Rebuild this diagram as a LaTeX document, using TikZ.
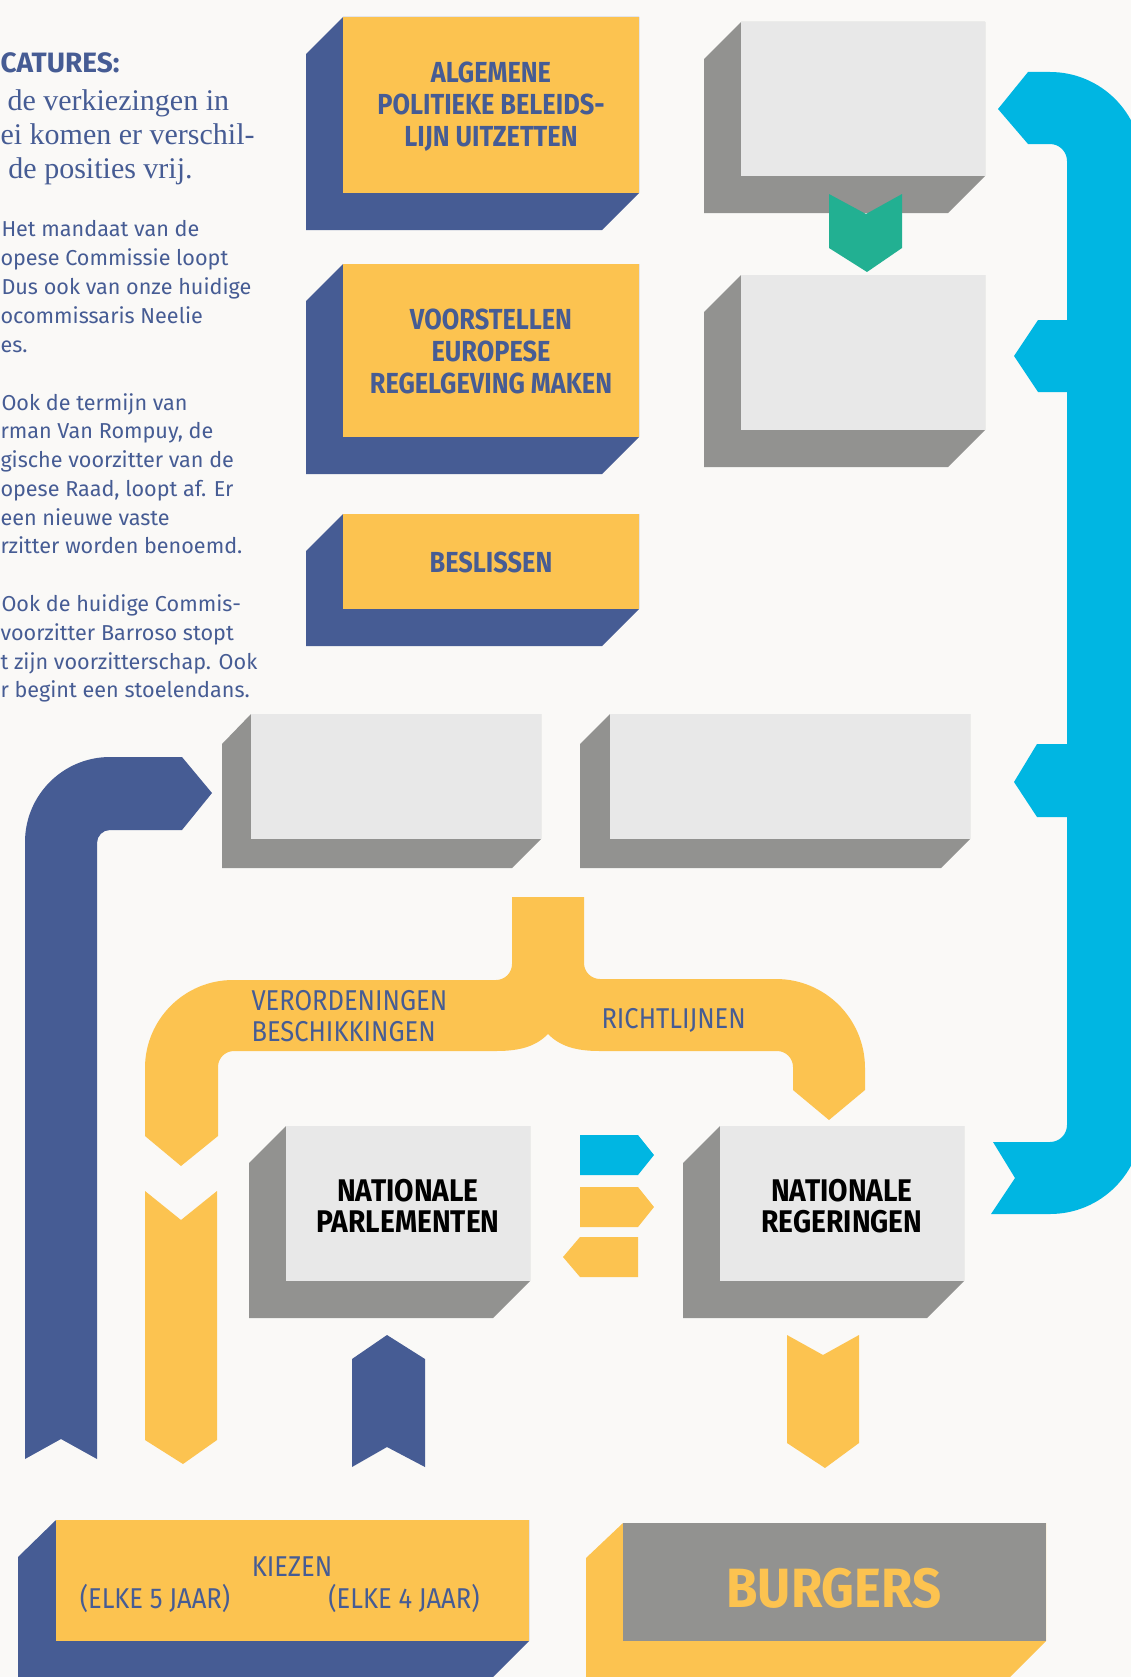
\documentclass[tikz,border=0pt]{standalone}
\usepackage{fontspec}
\setmainfont{Fira Sans}
\newfontfamily\introface{Liberation Serif}
\newfontfamily\narrowface[FakeStretch=0.89]{Fira Sans}
\newfontfamily\narrowbold[FakeStretch=0.875]{Fira Sans}
\newfontfamily\natbold[FakeStretch=0.9]{Fira Sans}
\newfontfamily\burgerbold[FakeStretch=0.92]{Fira Sans}

\definecolor{euyellow}{RGB}{252,195,80}
\definecolor{eublue}{RGB}{70,92,148}
\definecolor{eugray}{RGB}{146,146,144}
\definecolor{eulight}{RGB}{232,232,232}
\definecolor{eucyan}{RGB}{0,182,226}
\definecolor{eugreen}{RGB}{34,176,146}
\definecolor{paper}{RGB}{250,249,247}

\tikzset{every picture/.style={line width=0.75pt}}
\tikzset{
  yellowface/.style={fill=euyellow},
  blueshade/.style={fill=eublue},
  grayface/.style={fill=eulight},
  grayshade/.style={fill=eugray},
  boxlabel/.style={inner sep=0.75pt, align=center, text=eublue, font=\narrowbold\bfseries\fontsize{21.75}{24}\selectfont},
  natlabel/.style={inner sep=0.75pt, align=center, text=black, font=\natbold\bfseries\fontsize{23.5}{23.25}\selectfont},
  bandlabel/.style={inner sep=0.75pt, align=left, text=eublue, font=\narrowface\fontsize{21.5}{23.25}\selectfont},
  burgerlabel/.style={inner sep=0.75pt, text=euyellow, font=\burgerbold\bfseries\fontsize{41.5}{44}\selectfont},
  headtext/.style={inner sep=0pt, anchor=base west, text=eublue, font=\bfseries\fontsize{21}{22}\selectfont},
  introtext/.style={inner sep=0pt, anchor=base west, text=eublue, font=\introface\fontsize{22.5}{26}\selectfont},
  sidetext/.style={inner sep=0pt, anchor=base west, text=eublue, font=\fontsize{16.2}{21}\selectfont}
}

\begin{document}
\begin{tikzpicture}[x=0.75pt,y=0.75pt,yscale=-1,xscale=1]
        \useasboundingbox (0,0) rectangle (1131,1677);
        \clip (0,0) rectangle (1131,1677);
        \fill[paper] (0,0) rectangle (1131,1677);

        % Text Node
        \node[headtext] (catures) at (0,73) {CATURES:};
        \node[introtext] (intro1) at (7,110) {de verkiezingen in};
        \node[introtext] (intro2) at (0,144) {ei komen er verschil-};
        \node[introtext] (intro3) at (8,178) {de posities vrij.};
        % Text Node
        \node[sidetext] (side1) at (1,236) {Het mandaat van de};
        \node[sidetext] (side2) at (0,265) {opese Commissie loopt};
        \node[sidetext] (side3) at (1,294) {Dus ook van onze huidige};
        \node[sidetext] (side4) at (0,323) {ocommissaris Neelie};
        \node[sidetext] (side5) at (0,352) {es.};
        % Text Node
        \node[sidetext] (side6) at (1,410) {Ook de termijn van};
        \node[sidetext] (side7) at (0,438) {rman Van Rompuy, de};
        \node[sidetext] (side8) at (0,467) {gische voorzitter van de};
        \node[sidetext] (side9) at (0,496) {opese Raad, loopt af. Er};
        \node[sidetext] (side10) at (0,525) {een nieuwe vaste};
        \node[sidetext] (side11) at (0,553) {rzitter worden benoemd.};
        % Text Node
        \node[sidetext] (side12) at (1,611) {Ook de huidige Commis-};
        \node[sidetext] (side13) at (0,640) {voorzitter Barroso stopt};
        \node[sidetext] (side14) at (0,669) {t zijn voorzitterschap. Ook};
        \node[sidetext] (side15) at (0,697) {r begint een stoelendans.};

        %Shape: Box (algemene)
        \fill[blueshade] (343,17) -- (306,54) -- (306,230) -- (602,230) -- (639,193) -- (639,17) -- cycle;
        \fill[yellowface] (343,17) rectangle (639,193);
        %Shape: Box (voorstellen)
        \fill[blueshade] (343,264) -- (306,301) -- (306,474) -- (602,474) -- (639,437) -- (639,264) -- cycle;
        \fill[yellowface] (343,264) rectangle (639,437);
        %Shape: Box (beslissen)
        \fill[blueshade] (343,514) -- (306,551) -- (306,646) -- (602,646) -- (639,609) -- (639,514) -- cycle;
        \fill[yellowface] (343,514) rectangle (639,609);

        %Shape: Box (top right, empty)
        \fill[grayshade] (741,22) -- (704,59) -- (704,213) -- (948,213) -- (985,176) -- (985,22) -- cycle;
        \fill[grayface] (741,22) rectangle (985,176);
        %Shape: Box (second right, empty)
        \fill[grayshade] (741,275) -- (704,312) -- (704,467) -- (948,467) -- (985,430) -- (985,275) -- cycle;
        \fill[grayface] (741,275) rectangle (985,430);
        %Shape: Arrow (green)
        \fill[eugreen] (829,194) -- (866,214) -- (902,194) -- (902,248) -- (867,272) -- (829,248) -- cycle;

        %Shape: Box (middle left, empty)
        \fill[grayshade] (251,714) -- (222,744) -- (222,868) -- (512,868) -- (541,839) -- (541,714) -- cycle;
        \fill[grayface] (251,714) rectangle (541,839);
        %Shape: Box (middle right, empty)
        \fill[grayshade] (610,714) -- (580,744) -- (580,868) -- (941,868) -- (970,839) -- (970,714) -- cycle;
        \fill[grayface] (610,714) rectangle (970,839);

        %Shape: Box (parlementen)
        \fill[grayshade] (286,1126) -- (249,1163) -- (249,1318) -- (493,1318) -- (530,1281) -- (530,1126) -- cycle;
        \fill[grayface] (286,1126) rectangle (530,1281);
        %Shape: Box (regeringen)
        \fill[grayshade] (720,1126) -- (683,1163) -- (683,1318) -- (927,1318) -- (964,1281) -- (964,1126) -- cycle;
        \fill[grayface] (720,1126) rectangle (964,1281);

        %Shape: Box (kiezen)
        \fill[blueshade] (56,1520) -- (18,1557) -- (18,1680) -- (490,1680) -- (529,1641) -- (529,1520) -- cycle;
        \fill[yellowface] (56,1520) rectangle (529,1641);
        %Shape: Box (burgers)
        \fill[yellowface] (623,1523) -- (586,1558) -- (586,1680) -- (1007,1680) -- (1046,1641) -- (1046,1523) -- cycle;
        \fill[grayshade] (623,1523) rectangle (1046,1641);

        %Shape: Bracket (cyan, right)
        \fill[eucyan] (998,109) -- (1028,72) -- (1050,72) arc (-90:0:92) -- (1142,1122) arc (0:90:92)
            -- (991,1214) -- (1015,1178) -- (993,1142) -- (1050,1142) arc (90:0:17)
            -- (1067,817) -- (1037,817) -- (1014,782) -- (1037,744) -- (1067,744)
            -- (1067,392) -- (1038,392) -- (1014,356) -- (1038,320) -- (1067,320)
            -- (1067,161) arc (0:-90:17) -- (1028,144) -- cycle;

        %Shape: Bar (blue, left)
        \fill[eublue] (212,793) -- (182,757) -- (110,757) arc (270:180:85) -- (25,1459) -- (61,1439) -- (97,1459)
            -- (97,843) arc (180:270:13) -- (182,830) -- cycle;

        %Shape: Bracket (yellow, middle)
        \fill[euyellow] (512,897) -- (584,897) -- (584,963) arc (180:90:16) -- (776,979) arc (270:360:89)
            -- (865,1090) -- (829,1120) -- (793,1090) -- (793,1067) arc (0:-90:16) -- (600,1051)
            .. controls (575,1051) and (560,1046) .. (548,1034)
            .. controls (536,1046) and (521,1051) .. (496,1051)
            -- (234,1051) arc (270:180:16) -- (218,1136) -- (181,1166) -- (145,1136) -- (145,1068)
            arc (180:270:88) -- (496,980) arc (90:0:16) -- cycle;

        %Shape: Arrow (yellow, left)
        \fill[euyellow] (145,1191) -- (181,1220) -- (217,1191) -- (217,1440) -- (183,1464) -- (145,1440) -- cycle;
        %Shape: Arrow (blue, up)
        \fill[eublue] (387,1335) -- (425,1359) -- (425,1467) -- (387,1447) -- (352,1467) -- (352,1359) -- cycle;
        %Shape: Arrow (yellow, right)
        \fill[euyellow] (787,1335) -- (823,1355) -- (859,1335) -- (859,1443) -- (825,1468) -- (787,1443) -- cycle;

        %Shape: Tags (between national boxes)
        \fill[eucyan] (580,1135) -- (638,1135) -- (654,1155) -- (638,1175) -- (580,1175) -- cycle;
        \fill[euyellow] (580,1187) -- (638,1187) -- (654,1207) -- (638,1227) -- (580,1227) -- cycle;
        \fill[euyellow] (638,1237) -- (638,1277) -- (580,1277) -- (563,1257) -- (580,1237) -- cycle;

        % Text Node
        \node[boxlabel] (algemene) at (491,107) {ALGEMENE\\POLITIEKE BELEIDS-\\LIJN UITZETTEN};
        % Text Node
        \node[boxlabel] (voorstellen) at (491,351) {VOORSTELLEN\\EUROPESE\\REGELGEVING MAKEN};
        % Text Node
        \node[boxlabel] (beslissen) at (491,562) {BESLISSEN};
        % Text Node
        \node[natlabel] (parlementen) at (408,1206) {NATIONALE\\PARLEMENTEN};
        % Text Node
        \node[natlabel] (regeringen) at (842,1206) {NATIONALE\\REGERINGEN};
        % Text Node
        \node[bandlabel, anchor=west] (verordeningen) at (250,1016) {VERORDENINGEN\\BESCHIKKINGEN};
        % Text Node
        \node[bandlabel, anchor=west] (richtlijnen) at (600,1020) {RICHTLIJNEN};
        % Text Node
        \node[bandlabel] (kiezen) at (292,1567) {KIEZEN};
        \node[bandlabel] (vijfjaar) at (155,1598) {(ELKE 5 JAAR)};
        \node[bandlabel] (vierjaar) at (404,1598) {(ELKE 4 JAAR)};
        % Text Node
        \node[burgerlabel] (burgers) at (834,1588) {BURGERS};
\end{tikzpicture}
\end{document}
